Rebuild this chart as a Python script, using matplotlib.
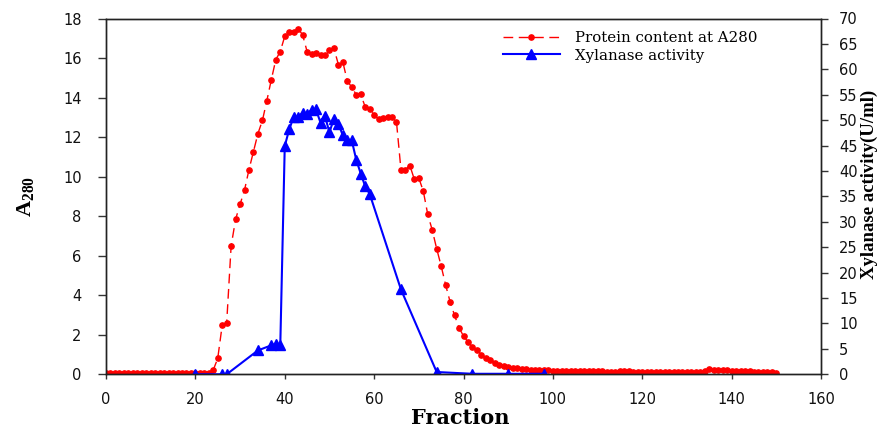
import matplotlib
matplotlib.use("Agg")
import matplotlib.pyplot as plt

# fraction numbers for the A280 readings (one per fraction)
fractions = list(range(0, 151))
protein_a280 = [
    0.06, 0.06, 0.06, 0.06, 0.06, 0.06, 0.06, 0.06, 0.06, 0.06,
    0.06, 0.06, 0.06, 0.06, 0.06, 0.06, 0.06, 0.06, 0.06, 0.06,
    0.06, 0.07, 0.07, 0.09, 0.22, 0.80, 2.48, 2.58, 6.49, 7.84,
    8.60, 9.32, 10.36, 11.27, 12.18, 12.84, 13.85, 14.91, 15.92, 16.33,
    17.10, 17.34, 17.30, 17.49, 17.17, 16.33, 16.18, 16.26, 16.14, 16.14,
    16.40, 16.50, 15.67, 15.80, 14.83, 14.53, 14.14, 14.16, 13.53, 13.40,
    13.13, 12.90, 12.96, 13.00, 13.00, 12.77, 10.36, 10.36, 10.56, 9.86,
    9.93, 9.27, 8.09, 7.30, 6.35, 5.48, 4.52, 3.67, 2.98, 2.36,
    1.93, 1.64, 1.39, 1.22, 1.00, 0.83, 0.71, 0.59, 0.49, 0.42,
    0.37, 0.33, 0.30, 0.28, 0.26, 0.24, 0.23, 0.22, 0.21, 0.20,
    0.19, 0.18, 0.18, 0.17, 0.17, 0.16, 0.16, 0.16, 0.15, 0.15,
    0.15, 0.15, 0.14, 0.14, 0.14, 0.15, 0.17, 0.15, 0.14, 0.13,
    0.13, 0.13, 0.12, 0.12, 0.12, 0.12, 0.12, 0.12, 0.12, 0.12,
    0.12, 0.12, 0.12, 0.13, 0.17, 0.26, 0.24, 0.22, 0.21, 0.20,
    0.19, 0.18, 0.17, 0.16, 0.15, 0.14, 0.13, 0.12, 0.11, 0.10, 0.09,
]

# xylanase activity was only measured on some fractions
xyl_fractions = [20, 26, 27, 34, 37, 38, 39, 40, 41, 42, 43, 44, 45, 46, 47,
                 48, 49, 50, 51, 52, 53, 54, 55, 56, 57, 58, 59, 66, 74, 82, 90, 98]
xyl_activity = [0, 0, 0, 4.7, 5.7, 6.0, 5.7, 44.9, 48.2, 50.6, 50.6, 51.5, 51.3, 52.0, 52.1,
                49.5, 50.8, 47.6, 50.3, 49.3, 47.0, 46.0, 46.0, 42.2, 39.5, 37.0, 35.5, 16.7, 0.45, 0.1, 0.1, 0.1]

x_ticks = [0, 20, 40, 60, 80, 100, 120, 140, 160]
left_ticks = [0, 2, 4, 6, 8, 10, 12, 14, 16, 18]
right_ticks = [0, 5, 10, 15, 20, 25, 30, 35, 40, 45, 50, 55, 60, 65, 70]

plt.rcParams['mathtext.fontset'] = 'custom'
plt.rcParams['mathtext.rm'] = 'Liberation Serif'
plt.rcParams['mathtext.bf'] = 'Liberation Serif:bold'

W, H = 885, 428
fig = plt.figure(figsize=(W / 100, H / 100), dpi=100)
ax = fig.add_axes([106 / W, 1 - 374.3 / H, (821 - 106) / W, (374.3 - 18.5) / H])
ax2 = ax.twinx()

l1, = ax.plot(fractions, protein_a280, color='#ff0000', linestyle=(0, (7, 4)), linewidth=1,
              marker='o', markersize=3.8, label='Protein content at A280')
l2, = ax2.plot(xyl_fractions, xyl_activity, color='#0000ff', linewidth=1.5,
               marker='^', markersize=7, label='Xylanase activity')

ax.set_xlim(0, 160)
ax.set_ylim(0, 18)
ax2.set_ylim(0, 70)
ax.set_xticks(x_ticks)
ax.set_yticks(left_ticks)
ax2.set_yticks(right_ticks)

for a in (ax, ax2):
    for s in a.spines.values():
        s.set_color('#222222')
        s.set_linewidth(1)
ax.tick_params(axis='x', direction='out', length=3.5, width=1, pad=9, color='#333333',
               labelsize=10.5, labelcolor='#111111')
ax.tick_params(axis='y', direction='out', length=5.5, width=1, pad=12, color='#333333',
               labelsize=10.5, labelcolor='#111111')
ax2.tick_params(axis='y', direction='out', length=5, width=1, pad=8, color='#333333',
                labelsize=10.5, labelcolor='#111111')
for lab in ax.get_xticklabels() + ax.get_yticklabels() + ax2.get_yticklabels():
    lab.set_family('DejaVu Sans')

fig.text(460 / W, 1 - 418 / H, 'Fraction', ha='center', va='center',
         family='DejaVu Serif', fontweight='bold', fontsize=15)
fig.text(26 / W, 1 - 196 / H, r'$\mathbf{A_{280}}$', ha='center', va='center', rotation=90,
         fontsize=16)
fig.text(869 / W, 1 - 184 / H, 'Xylanase activity(U/ml)', ha='center', va='center', rotation=90,
         family='Liberation Serif', fontweight='bold', fontsize=13.5)

leg = ax2.legend(handles=[l1, l2], loc='upper left', bbox_to_anchor=(0.555, 0.965),
                 frameon=False, borderpad=0, borderaxespad=0, handlelength=3.8,
                 handletextpad=1.0, labelspacing=0.25,
                 prop={'family': 'DejaVu Serif', 'size': 10.8})

fig.savefig('out.png', dpi=100)
